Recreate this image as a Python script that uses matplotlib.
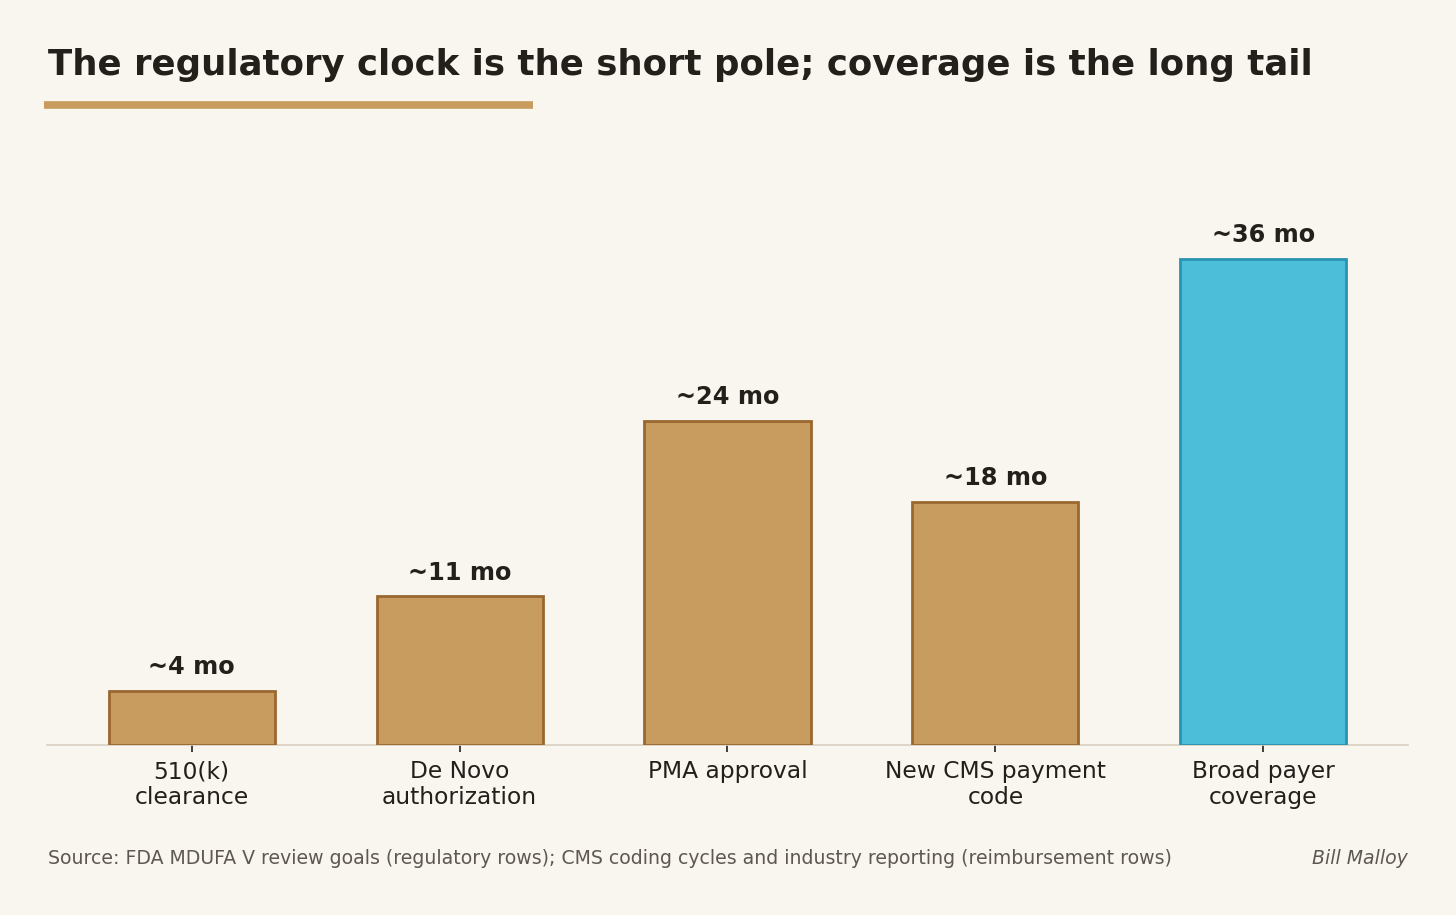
import numpy as np
import matplotlib.pyplot as plt
from matplotlib.lines import Line2D

plt.rcParams['font.family'] = ['DejaVu Sans']

# data
categories = ["510(k)\nclearance", "De Novo\nauthorization", "PMA approval",
              "New CMS payment\ncode", "Broad payer\ncoverage"]
months = [4, 11, 24, 18, 36]
labels = ["~4 mo", "~11 mo", "~24 mo", "~18 mo", "~36 mo"]

bg = "#F9F6F0"
tan = "#C89B5E"
tan_edge = "#9A6730"
blue = "#4DBED9"
blue_edge = "#2A93B0"
ink = "#23201C"

fig = plt.figure(figsize=(14.56, 9.15), dpi=100, facecolor=bg)
W, H = 1456, 915
ax = fig.add_axes([47 / W, 1 - 745 / H, (1408 - 47) / W, (745 - 186) / H])
ax.set_facecolor(bg)

x = np.arange(len(categories))
fills = [tan] * 4 + [blue]
edges = [tan_edge] * 4 + [blue_edge]
ax.bar(x, months, width=0.62, color=fills, edgecolor=edges, linewidth=2, zorder=3)

for xi, v, lab in zip(x, months, labels):
    ax.annotate(lab, (xi, v), xytext=(0, 8.5), textcoords="offset points",
                ha="center", va="bottom", fontsize=17.3, fontweight="bold", color=ink)

ax.set_xlim(-0.54, 4.54)
ax.set_ylim(0, 41.4)
ax.set_xticks(x)
ax.set_xticklabels(categories, fontsize=16.8, color=ink, linespacing=1.15)
ax.set_yticks([])
for s in ["top", "right", "left"]:
    ax.spines[s].set_visible(False)
ax.spines["bottom"].set_color("#D8D0C2")
ax.spines["bottom"].set_linewidth(1.2)
ax.tick_params(axis="x", length=5, width=1.2, color=ink, pad=6)

fig.text(48 / W, 1 - 65 / H, "The regulatory clock is the short pole; coverage is the long tail",
         fontsize=25.6, fontweight="bold", color=ink, ha="left", va="center")
fig.add_artist(Line2D([44 / W, 533 / W], [1 - 104.5 / H, 1 - 104.5 / H],
                      color=tan, linewidth=5.5, solid_capstyle="butt"))

fig.text(48 / W, 1 - 858 / H,
         "Source: FDA MDUFA V review goals (regulatory rows); CMS coding cycles and industry reporting (reimbursement rows)",
         fontsize=13.6, color="#5E5850", ha="left", va="center")
fig.text(1408 / W, 1 - 858 / H, "Bill Malloy", fontsize=13.6, style="italic",
         color="#5E5850", ha="right", va="center")

fig.savefig("out.png", dpi=100, facecolor=bg)
